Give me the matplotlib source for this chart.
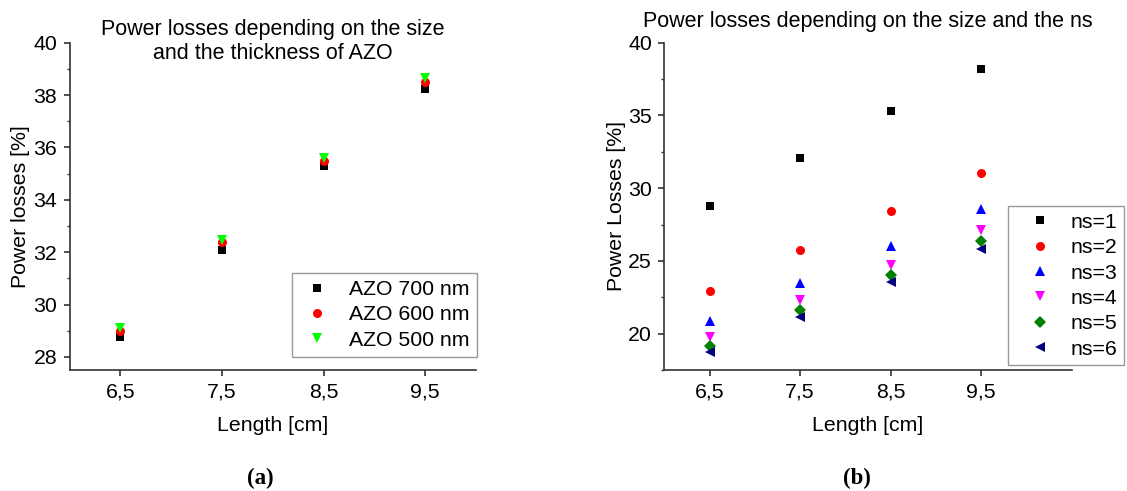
import numpy as np
import matplotlib; matplotlib.use("Agg")
import matplotlib.pyplot as plt

plt.rcParams["font.family"] = ["Liberation Sans", "DejaVu Sans"]

# panel (a): power losses vs length for three AZO thicknesses
length = [6.5, 7.5, 8.5, 9.5]
length_labels = ["6,5", "7,5", "8,5", "9,5"]
azo_700 = [28.75, 32.1, 35.3, 38.22]
azo_600 = [28.98, 32.38, 35.48, 38.5]
azo_500 = [29.1, 32.45, 35.6, 38.65]
azo_names = ["AZO 700 nm", "AZO 600 nm", "AZO 500 nm"]

# panel (b): power losses vs length for ns = 1..6
ns1 = [28.75, 32.1, 35.3, 38.2]
ns2 = [22.9, 25.75, 28.45, 31.07]
ns3 = [20.85, 23.5, 26.05, 28.55]
ns4 = [19.8, 22.3, 24.73, 27.15]
ns5 = [19.18, 21.64, 24.02, 26.4]
ns6 = [18.72, 21.12, 23.52, 25.85]
ns_names = ["ns=1", "ns=2", "ns=3", "ns=4", "ns=5", "ns=6"]

FS = 15.3
W, H = 1127, 491
fig = plt.figure(figsize=(W / 100, H / 100), dpi=100)
axa = fig.add_axes([0.0618, 0.2464, 0.3606, 0.6666])
axb = fig.add_axes([0.5894, 0.2464, 0.3616, 0.6666])


def style(ax, ylim, major, minor, xmax, ylab, ylab_x):
    for s in ("top", "right"):
        ax.spines[s].set_visible(False)
    for s in ("left", "bottom"):
        ax.spines[s].set_color("#333333"); ax.spines[s].set_linewidth(1.2)
    ax.set_xlim(6, xmax); ax.set_ylim(*ylim)
    ax.set_xticks(length); ax.set_xticklabels(length_labels)
    ax.set_yticks(np.arange(ylim[0] + (major - ylim[0] % major) % major, ylim[1] + 0.01, major))
    ax.set_yticks(np.arange(np.ceil(ylim[0] / minor) * minor, ylim[1] + 0.01, minor), minor=True)
    ax.tick_params(which="major", direction="out", length=4.5, width=1.2, color="#333333",
                   labelsize=FS, pad=4.5)
    ax.tick_params(which="minor", direction="out", length=2.5, width=1.0, color="#333333")
    ax.set_xlabel("Length [cm]", fontsize=FS)
    ax.xaxis.label.set_va("center"); ax.xaxis.set_label_coords(0.5, -0.171)
    ax.set_ylabel(ylab, fontsize=FS)
    ax.yaxis.label.set_va("center"); ax.yaxis.set_label_coords(ylab_x, 0.5)


kw = dict(ls="none", markeredgewidth=0)
axa.plot(length, azo_700, marker="s", ms=6, color="black", label=azo_names[0], **kw)
axa.plot(length, azo_600, marker="o", ms=6.5, color="#FF0000", label=azo_names[1], **kw)
axa.plot(length, azo_500, marker="v", ms=7.5, color="#00FF00", label=azo_names[2], **kw)
style(axa, (27.5, 40), 2, 1, 10, "Power losses [%]", -0.121)
fig.text(272.5 / W, 1 - 59.3 / H, "Power losses depending on the size\nand the thickness of AZO",
         ha="center", va="baseline", ma="center", fontsize=15.5, linespacing=1.2)
leg = axa.legend(loc="lower right", bbox_to_anchor=(0.423, 0.2723), bbox_transform=fig.transFigure,
                 fontsize=FS, frameon=True, fancybox=False, borderaxespad=0, handlelength=1.6,
                 handletextpad=0.7, labelspacing=0.3, borderpad=0.35)
leg.get_frame().set_edgecolor("#808080"); leg.get_frame().set_linewidth(1.0)

series = [ns1, ns2, ns3, ns4, ns5, ns6]
markers = ["s", "o", "^", "v", "D", "<"]
colors = ["black", "#FF0000", "#0000FF", "#FF00FF", "#008000", "#000080"]
sizes = [6, 6.5, 7.5, 7.5, 6.3, 7.5]
for vals, m, c, s, n in zip(series, markers, colors, sizes, ns_names):
    axb.plot(length, vals, marker=m, ms=s, color=c, label=n, **kw)
style(axb, (17.5, 40), 5, 2.5, 10.5, "Power Losses [%]", -0.118)
fig.text(868 / W, 1 - 27.3 / H, "Power losses depending on the size and the ns",
         ha="center", va="baseline", fontsize=15.5)
leg = axb.legend(loc="lower right", bbox_to_anchor=(0.9975, 0.2566), bbox_transform=fig.transFigure,
                 fontsize=FS, frameon=True, fancybox=False, borderaxespad=0, handlelength=2.4,
                 handletextpad=0.25, labelspacing=0.3, borderpad=0.3)
leg.get_frame().set_edgecolor("#808080"); leg.get_frame().set_linewidth(1.0)

fig.text(260.8 / W, 1 - 478 / H, "(a)", ha="center", va="center", fontsize=16.5, fontweight="bold",
         family="Liberation Serif")
fig.text(856.6 / W, 1 - 478 / H, "(b)", ha="center", va="center", fontsize=16.5, fontweight="bold",
         family="Liberation Serif")

fig.savefig("out.png", dpi=100)
